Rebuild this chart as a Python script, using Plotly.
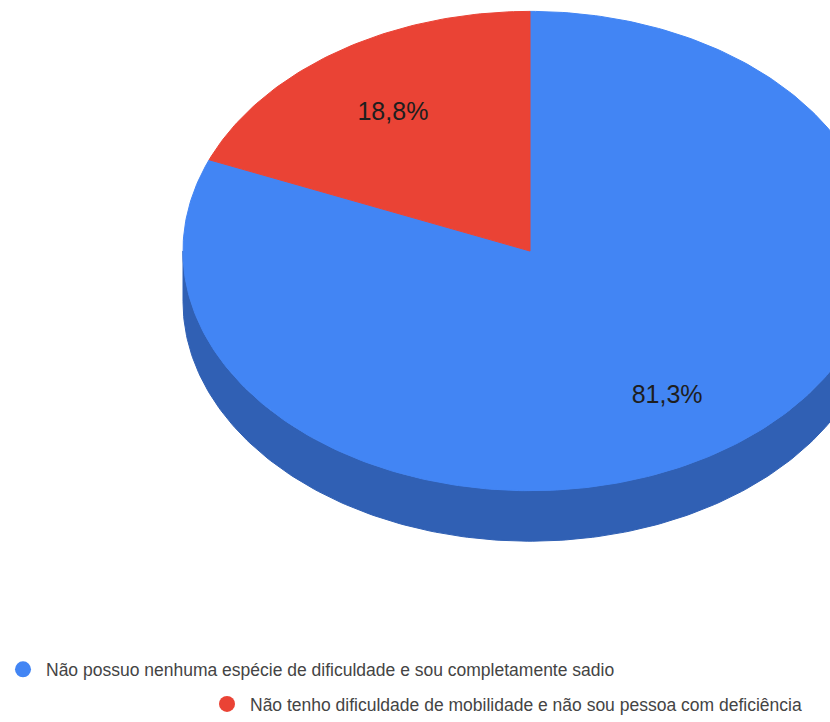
import numpy as np
import plotly.graph_objects as go

# Survey answers and their shares (percent)
categories = [
    "Não possuo nenhuma espécie de dificuldade e sou completamente sadio",
    "Não tenho dificuldade de mobilidade e não sou pessoa com deficiência",
]
values = [81.3, 18.8]
colors = ["#4285f4", "#ea4335"]
side_colors = ["#3060b4", "#a8302a"]

W, H = 830, 722
CX, CY = 530.0, 253.5      # pie centre (px)
RX, RY = 347.0, 242.0      # top-face ellipse radii
DEPTH = 51.0               # thickness of the tilted disc
LABEL_R = 0.71             # label distance as a fraction of the radius
LABEL_DY = 4.0             # small downward nudge for the label text


def pt(t, dy=0.0):
    """Point on the top ellipse for clockwise angle t (radians from 12 o'clock)."""
    return CX + RX * np.sin(t), CY - RY * np.cos(t) + dy


fracs = np.array(values) / sum(values)
bounds = np.concatenate([[0.0], np.cumsum(fracs)]) * 2 * np.pi

fig = go.Figure()

# outer walls (only the front half, pi/2 .. 3pi/2, faces the viewer)
for i in range(len(values)):
    a0 = max(bounds[i], np.pi / 2)
    a1 = min(bounds[i + 1], 3 * np.pi / 2)
    if a1 <= a0:
        continue
    t = np.linspace(a0, a1, 200)
    xt, yt = pt(t)
    xb, yb = pt(t[::-1], DEPTH)
    xs = np.concatenate([xt, xb, xt[:1]])
    ys = np.concatenate([yt, yb, yt[:1]])
    fig.add_trace(go.Scatter(
        x=xs, y=ys, mode="lines", fill="toself",
        fillcolor=side_colors[i], line=dict(color=side_colors[i], width=1),
        hoverinfo="skip", showlegend=False,
    ))

# top faces of the slices
for i in range(len(values)):
    n = max(int(400 * fracs[i]), 20)
    t = np.linspace(bounds[i], bounds[i + 1], n)
    xa, ya = pt(t)
    xs = np.concatenate([[CX], xa, [CX]])
    ys = np.concatenate([[CY], ya, [CY]])
    fig.add_trace(go.Scatter(
        x=xs, y=ys, mode="lines", fill="toself",
        fillcolor=colors[i], line=dict(color=colors[i], width=1),
        hoverinfo="skip", showlegend=False,
    ))

# percentage labels at the middle angle of each slice
mids = (bounds[:-1] + bounds[1:]) / 2
lx = CX + LABEL_R * RX * np.sin(mids)
ly = CY - LABEL_R * RY * np.cos(mids) + LABEL_DY
labels = [f"{v:.1f}%".replace(".", ",") for v in values]
fig.add_trace(go.Scatter(
    x=lx, y=ly, mode="text", text=labels,
    textfont=dict(family="Liberation Sans, Arial", size=25, color="#1e1e1e"),
    hoverinfo="skip", showlegend=False,
))

# legend entries, one legend box per line
legend_ids = ["legend", "legend2"]
for i, name in enumerate(categories):
    fig.add_trace(go.Scatter(
        x=[None], y=[None], mode="markers", name=name,
        marker=dict(symbol="circle", size=16, color=colors[i]),
        legend=legend_ids[i], showlegend=True,
    ))

legend_font = dict(family="Liberation Sans, Arial", size=17.5, color="#444444")
fig.update_layout(
    width=W, height=H,
    margin=dict(l=0, r=0, t=0, b=0),
    paper_bgcolor="white", plot_bgcolor="white",
    xaxis=dict(range=[0, W], visible=False, fixedrange=True),
    yaxis=dict(range=[H, 0], visible=False, fixedrange=True),
    legend=dict(x=0, y=1 - 676 / H, xanchor="left", yanchor="middle",
                font=legend_font, bgcolor="rgba(0,0,0,0)",
                itemsizing="trace", itemwidth=36),
    legend2=dict(x=204 / W, y=1 - 711 / H, xanchor="left", yanchor="middle",
                 font=legend_font, bgcolor="rgba(0,0,0,0)",
                 itemsizing="trace", itemwidth=36),
    hovermode=False,
)

fig.write_html("out.html")
